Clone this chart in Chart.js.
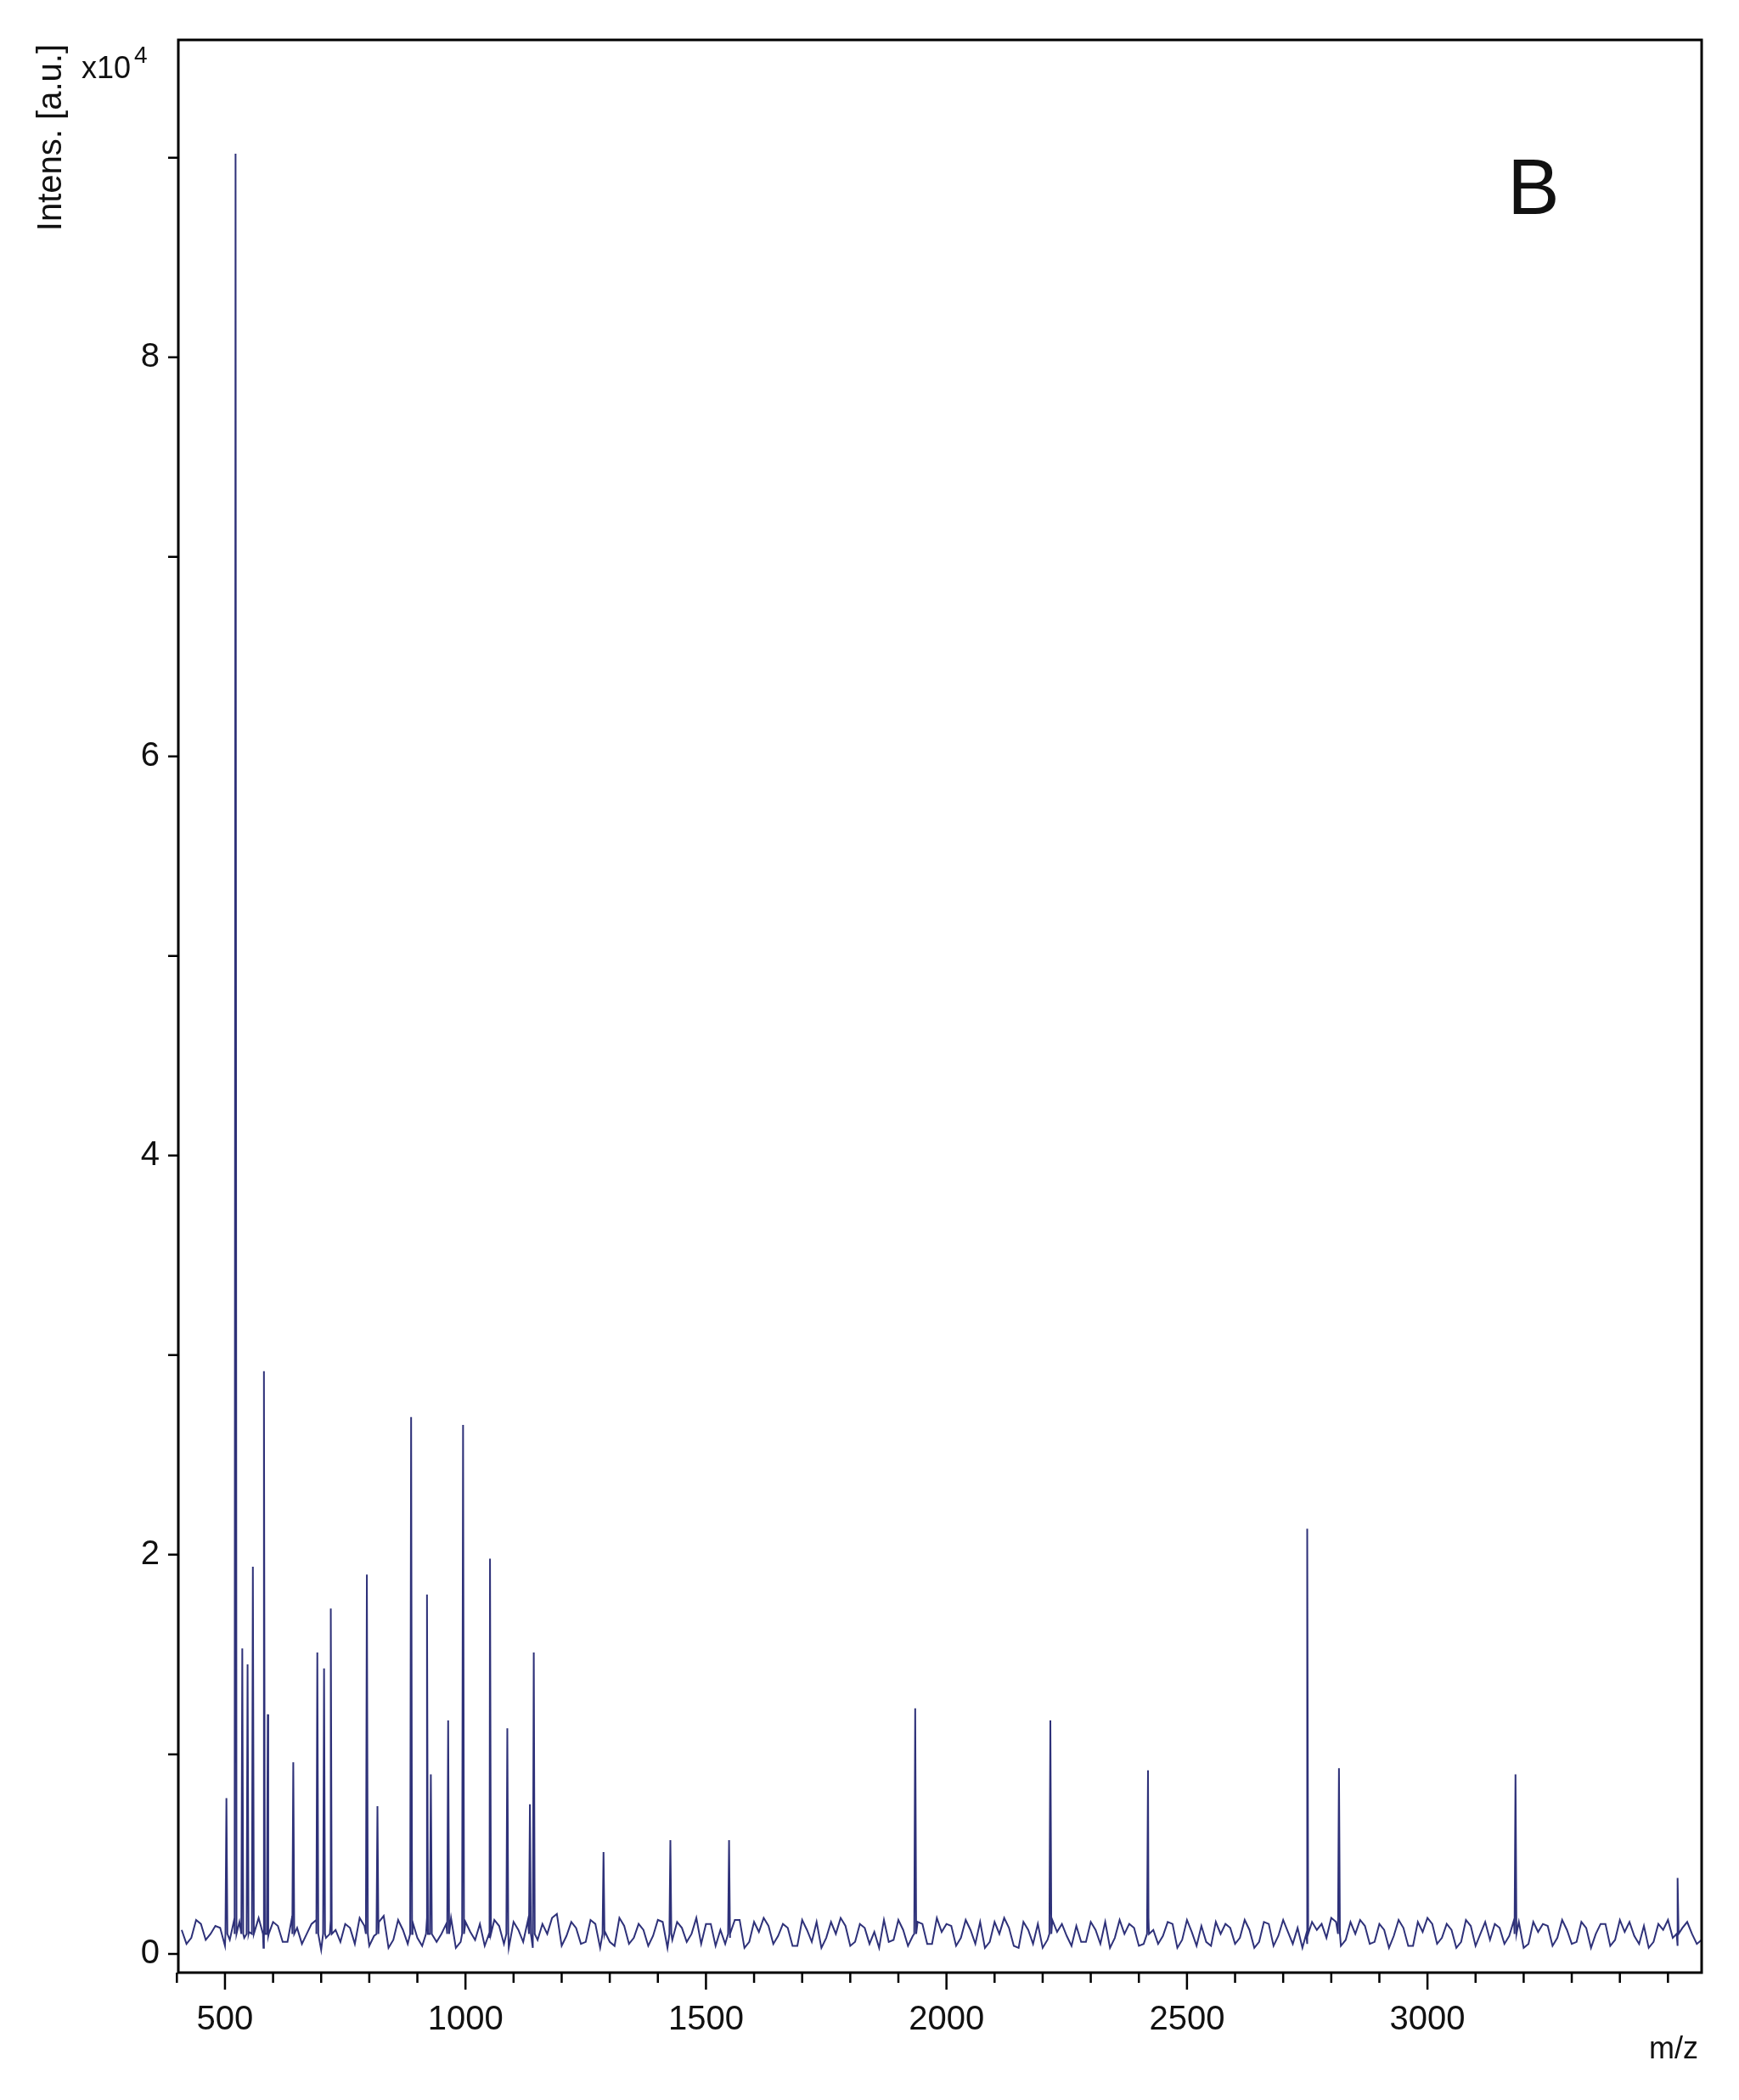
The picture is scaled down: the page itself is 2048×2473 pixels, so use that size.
<!DOCTYPE html>
<html>
<head>
<meta charset="utf-8">
<script src="https://cdn.jsdelivr.net/npm/chart.js@4.4.1/dist/chart.umd.min.js"></script>
<style>
  html, body { margin: 0; padding: 0; background: #fff; }
  #wrap { width: 2048px; height: 2473px; position: relative; }
</style>
</head>
<body>
<div id="wrap"><canvas id="c" width="2048" height="2473"></canvas></div>
<script>
// peaks: m/z and intensity (x10^4)
const peakMz = [503, 522, 536, 547, 558, 581, 589, 642, 692, 706, 720, 795, 817, 887, 920, 928, 964, 995, 1051, 1087, 1134, 1142, 1287, 1426, 1548, 1935, 2216, 2419, 2750, 2816, 3183, 3520];
const peakInt = [0.78, 9.02, 1.53, 1.45, 1.94, 2.92, 1.2, 0.96, 1.51, 1.43, 1.73, 1.90, 0.74, 2.69, 1.80, 0.9, 1.17, 2.65, 1.98, 1.13, 0.75, 1.51, 0.51, 0.57, 0.57, 1.23, 1.17, 0.92, 2.13, 0.93, 0.90, 0.38];

// baseline noise, sampled every 20 m/z from 410, second set offset by 10
const noiseStart = 410;
const noiseStep = 20;
const noise = [
  0.12, 0.08, 0.15, 0.10, 0.13, 0.07, 0.16, 0.11, 0.18, 0.09, 0.14, 0.06, 0.13, 0.10, 0.17, 0.08,
  0.12, 0.15, 0.05, 0.14, 0.09, 0.19, 0.07, 0.12, 0.16, 0.04, 0.13, 0.10, 0.18, 0.06, 0.11, 0.15,
  0.08, 0.14, 0.03, 0.12, 0.17, 0.07, 0.10, 0.20, 0.09, 0.13, 0.06, 0.15, 0.11, 0.04, 0.14, 0.08,
  0.12, 0.09, 0.16, 0.07, 0.13, 0.10, 0.05, 0.15, 0.12, 0.08, 0.17, 0.06, 0.11, 0.14, 0.09, 0.13,
  0.04, 0.12, 0.16, 0.08, 0.10, 0.14, 0.06, 0.13, 0.11, 0.17, 0.07, 0.12, 0.09, 0.15, 0.05, 0.11,
  0.14, 0.08, 0.12, 0.16, 0.06, 0.10, 0.13, 0.03, 0.12, 0.15, 0.07, 0.11, 0.09, 0.14, 0.06, 0.12,
  0.16, 0.08, 0.10, 0.13, 0.05, 0.12, 0.09, 0.15, 0.07, 0.11, 0.14, 0.04, 0.10, 0.13, 0.08, 0.12,
  0.06, 0.15, 0.09, 0.11, 0.13, 0.05, 0.12, 0.08, 0.16, 0.07, 0.10, 0.14, 0.06, 0.12, 0.09, 0.13,
  0.04, 0.11, 0.15, 0.08, 0.12, 0.06, 0.14, 0.10, 0.07, 0.13, 0.09, 0.16, 0.05, 0.11, 0.14, 0.08,
  0.12, 0.06, 0.13, 0.10, 0.15, 0.07, 0.11, 0.09, 0.14, 0.06, 0.12, 0.08, 0.13, 0.10, 0.07
];
const noise2 = [
  0.05, 0.17, 0.07, 0.14, 0.04, 0.18, 0.08, 0.15, 0.03, 0.16, 0.06, 0.19, 0.05, 0.15, 0.02, 0.17,
  0.06, 0.13, 0.18, 0.04, 0.16, 0.03, 0.17, 0.05, 0.08, 0.18, 0.06, 0.15, 0.03, 0.16, 0.07, 0.04,
  0.17, 0.05, 0.16, 0.06, 0.03, 0.15, 0.18, 0.04, 0.16, 0.05, 0.17, 0.03, 0.06, 0.18, 0.05, 0.15,
  0.04, 0.17, 0.03, 0.16, 0.06, 0.18, 0.15, 0.04, 0.05, 0.17, 0.03, 0.16, 0.18, 0.05, 0.15, 0.04,
  0.17, 0.06, 0.03, 0.16, 0.18, 0.04, 0.15, 0.05, 0.03, 0.06, 0.17, 0.04, 0.16, 0.05, 0.18, 0.15,
  0.04, 0.17, 0.05, 0.03, 0.16, 0.18, 0.04, 0.16, 0.05, 0.03, 0.17, 0.15, 0.04, 0.06, 0.16, 0.05,
  0.03, 0.17, 0.15, 0.04, 0.18, 0.05, 0.16, 0.03, 0.17, 0.04, 0.06, 0.16, 0.15, 0.05, 0.17, 0.03,
  0.16, 0.04, 0.17, 0.05, 0.03, 0.16, 0.15, 0.18, 0.04, 0.16, 0.17, 0.05, 0.15, 0.03, 0.17, 0.04,
  0.16, 0.18, 0.05, 0.15, 0.03, 0.17, 0.04, 0.16, 0.15, 0.05, 0.17, 0.03, 0.16, 0.15, 0.04, 0.17,
  0.05, 0.16, 0.03, 0.15, 0.04, 0.17, 0.16, 0.05, 0.03, 0.15, 0.17, 0.04, 0.16, 0.05
];

const xMajor = [500, 1000, 1500, 2000, 2500, 3000];
const xMinor = [400, 600, 700, 800, 900, 1100, 1200, 1300, 1400, 1600, 1700, 1800, 1900, 2100, 2200, 2300, 2400, 2600, 2700, 2800, 2900, 3100, 3200, 3300, 3400, 3500];
const yLabels = [0, 2, 4, 6, 8];
const yTicks = [0, 1, 2, 3, 4, 5, 6, 7, 8, 9];

// merge noise and peaks into one spectrum trace
const pts = noise.map((v, i) => ({ x: noiseStart + i * noiseStep, y: v }))
  .concat(noise2.map((v, i) => ({ x: noiseStart + 10 + i * noiseStep, y: v })));
peakMz.forEach((m, i) => {
  pts.push({ x: m - 2, y: 0.1 });
  pts.push({ x: m, y: peakInt[i] });
  pts.push({ x: m + 2, y: 0.1 });
});
pts.sort((a, b) => a.x - b.x);

const FONT = '"Liberation Sans", Arial, sans-serif';

const decor = {
  id: 'decor',
  afterDraw(chart) {
    const ctx = chart.ctx;
    const a = chart.chartArea;
    const xs = chart.scales.x, ys = chart.scales.y;
    ctx.save();
    ctx.strokeStyle = '#000';
    ctx.lineWidth = 3;
    ctx.strokeRect(a.left, a.top, a.right - a.left, a.bottom - a.top);
    ctx.lineWidth = 2.5;
    ctx.beginPath();
    xMajor.forEach(v => { const p = xs.getPixelForValue(v); ctx.moveTo(p, a.bottom); ctx.lineTo(p, a.bottom + 20); });
    xMinor.forEach(v => { const p = xs.getPixelForValue(v); ctx.moveTo(p, a.bottom); ctx.lineTo(p, a.bottom + 12); });
    yTicks.forEach(v => { const p = ys.getPixelForValue(v); ctx.moveTo(a.left, p); ctx.lineTo(a.left - 12, p); });
    ctx.stroke();
    ctx.fillStyle = '#111';
    ctx.font = '40px ' + FONT;
    ctx.textAlign = 'center';
    ctx.textBaseline = 'top';
    xMajor.forEach(v => ctx.fillText(String(v), xs.getPixelForValue(v), a.bottom + 36));
    ctx.textAlign = 'right';
    ctx.textBaseline = 'middle';
    yLabels.forEach(v => ctx.fillText(String(v), a.left - 22, ys.getPixelForValue(v)));
    // axis titles
    ctx.font = '36px ' + FONT;
    ctx.textAlign = 'right';
    ctx.textBaseline = 'alphabetic';
    ctx.fillText('m/z', 2000, 2424);
    ctx.textAlign = 'left';
    ctx.fillText('x10', 96, 92);
    ctx.font = '28px ' + FONT;
    ctx.fillText('4', 158, 74);
    ctx.save();
    ctx.translate(72, 52);
    ctx.rotate(-Math.PI / 2);
    ctx.font = '40px ' + FONT;
    ctx.textAlign = 'right';
    ctx.fillText('Intens. [a.u.]', 0, 0);
    ctx.restore();
    ctx.font = '92px ' + FONT;
    ctx.textAlign = 'center';
    ctx.fillText('B', 1806, 252);
    ctx.restore();
  }
};

new Chart(document.getElementById('c'), {
  type: 'line',
  data: {
    datasets: [{
      data: pts,
      borderColor: '#2e3179',
      borderWidth: 2,
      pointRadius: 0,
      tension: 0,
      fill: false
    }]
  },
  options: {
    responsive: false,
    animation: false,
    events: [],
    layout: { padding: { top: 47, right: 44, left: 0, bottom: 0 } },
    plugins: { legend: { display: false }, tooltip: { enabled: false } },
    scales: {
      x: {
        type: 'linear', min: 403, max: 3570,
        grid: { display: false }, border: { display: false },
        ticks: { display: false },
        afterFit: s => { s.height = 150; }
      },
      y: {
        min: -0.094, max: 9.59,
        grid: { display: false }, border: { display: false },
        ticks: { display: false },
        afterFit: s => { s.width = 210; }
      }
    }
  },
  plugins: [decor]
});
</script>
</body>
</html>
